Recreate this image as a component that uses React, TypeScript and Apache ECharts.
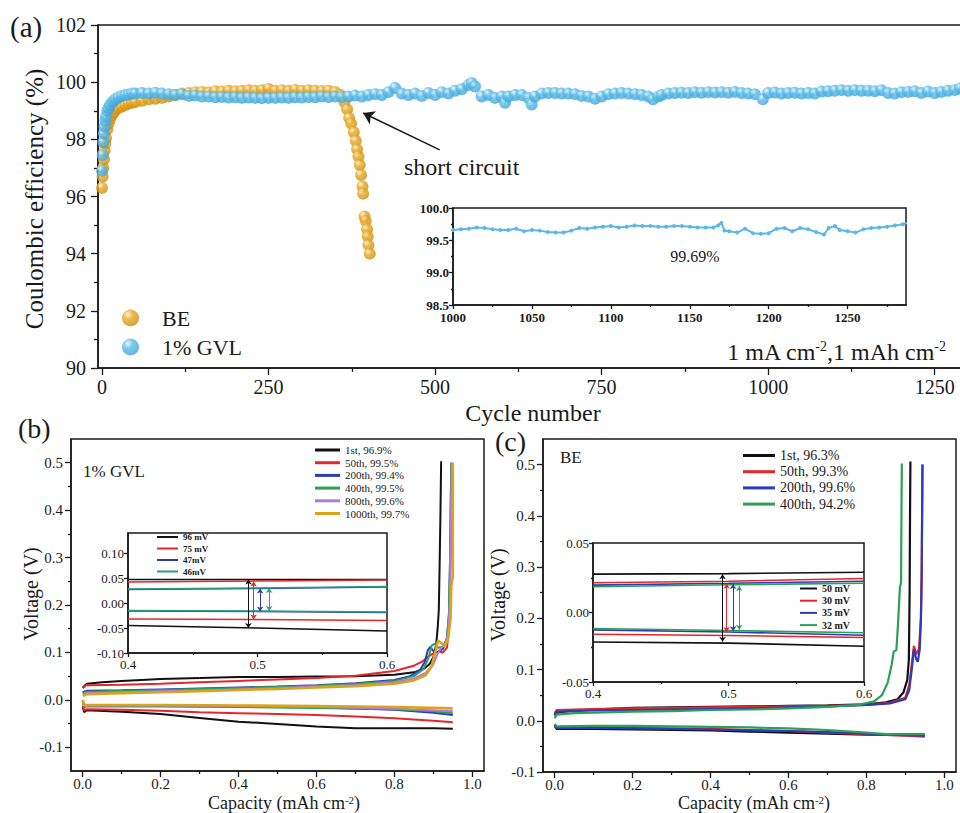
import React, { useEffect, useRef } from 'react';
import * as echarts from 'echarts';

const SERIF = '"Liberation Serif", "Times New Roman", serif';
const INK = '#1a1a1a';

// ---------- (a) Coulombic efficiency vs cycle number ----------
const beCE: [number, number][] = [
  [0, 96.3], [1, 96.7], [2, 97.0], [3, 97.3], [4, 97.6], [5, 97.85], [6, 98.05], [8, 98.35], [10, 98.55],
  [12, 98.7], [15, 98.85], [18, 98.95], [21, 99.05], [25, 99.1], [30, 99.15], [35, 99.2], [40, 99.25],
  [45, 99.28], [50, 99.3], [60, 99.35], [70, 99.4], [80, 99.42], [90, 99.45], [100, 99.5], [110, 99.55],
  [120, 99.6], [130, 99.62], [140, 99.65], [150, 99.66], [160, 99.64], [170, 99.68], [180, 99.67],
  [190, 99.7], [200, 99.68], [210, 99.7], [220, 99.72], [230, 99.7], [240, 99.72], [250, 99.76],
  [260, 99.7], [270, 99.72], [280, 99.7], [290, 99.73], [300, 99.7], [310, 99.72], [320, 99.7],
  [330, 99.69], [340, 99.7], [350, 99.66], [358, 99.55], [364, 99.3], [368, 99.05], [371, 98.75],
  [374, 98.55], [378, 98.25], [381, 97.95], [383, 97.65], [385, 97.4], [387, 97.1], [389, 96.75],
  [391, 96.35], [392, 96.1], [394, 95.3], [396, 95.15], [398, 94.85], [399, 94.6], [400, 94.3], [402, 94.0],
];

const gvlCE: [number, number][] = [
  [0, 96.9], [1, 97.45], [2, 97.9], [3, 98.2], [4, 98.45], [5, 98.65], [6, 98.8], [8, 99.0], [10, 99.1],
  [12, 99.2], [15, 99.3], [18, 99.36], [21, 99.42], [25, 99.47], [30, 99.52], [35, 99.55], [40, 99.57],
  [45, 99.6], [50, 99.6], [60, 99.62], [70, 99.6], [80, 99.63], [90, 99.6], [100, 99.58], [110, 99.55],
  [120, 99.58], [130, 99.52], [140, 99.53], [150, 99.5], [160, 99.5], [170, 99.47], [180, 99.48],
  [190, 99.46], [200, 99.47], [210, 99.45], [220, 99.46], [230, 99.45], [240, 99.44], [250, 99.45],
  [260, 99.45], [270, 99.46], [280, 99.45], [290, 99.47], [300, 99.46], [310, 99.48], [320, 99.47],
  [330, 99.5], [340, 99.48], [350, 99.5], [360, 99.48], [370, 99.5], [380, 99.53], [390, 99.5],
  [400, 99.55], [410, 99.58], [420, 99.55], [430, 99.65], [440, 99.8], [450, 99.6], [460, 99.55],
  [470, 99.6], [480, 99.52], [490, 99.62], [500, 99.55], [510, 99.65], [520, 99.6], [530, 99.7],
  [540, 99.75], [550, 99.9], [555, 99.97], [560, 99.85], [570, 99.5], [580, 99.55], [590, 99.45],
  [600, 99.5], [605, 99.28], [610, 99.5], [620, 99.55], [630, 99.55], [640, 99.45], [645, 99.22],
  [650, 99.5], [660, 99.6], [670, 99.62], [680, 99.62], [690, 99.6], [700, 99.6], [710, 99.58],
  [720, 99.52], [730, 99.5], [740, 99.42], [750, 99.5], [760, 99.58], [770, 99.6], [780, 99.62],
  [790, 99.6], [800, 99.58], [810, 99.55], [820, 99.5], [827, 99.4], [835, 99.5], [840, 99.55],
  [850, 99.6], [860, 99.62], [870, 99.63], [880, 99.62], [890, 99.65], [900, 99.63], [910, 99.65],
  [920, 99.64], [930, 99.65], [940, 99.63], [950, 99.66], [960, 99.62], [970, 99.6], [980, 99.58],
  [992, 99.4], [1000, 99.62], [1010, 99.64], [1020, 99.6], [1030, 99.62], [1040, 99.63], [1050, 99.6],
  [1060, 99.62], [1070, 99.6], [1080, 99.67], [1090, 99.68], [1100, 99.7], [1110, 99.72], [1120, 99.7],
  [1130, 99.72], [1140, 99.7], [1150, 99.7], [1160, 99.68], [1170, 99.72], [1180, 99.62], [1190, 99.6],
  [1200, 99.65], [1210, 99.66], [1220, 99.68], [1230, 99.62], [1240, 99.67], [1250, 99.62], [1260, 99.66],
  [1270, 99.7], [1280, 99.72], [1288, 99.78],
];

const gvlInsetCE: [number, number][] = [
  [1000, 99.66], [1005, 99.67], [1010, 99.68], [1015, 99.7], [1020, 99.69], [1025, 99.67], [1030, 99.66],
  [1035, 99.66], [1040, 99.68], [1045, 99.64], [1050, 99.66], [1055, 99.65], [1060, 99.63], [1065, 99.62],
  [1070, 99.62], [1075, 99.65], [1080, 99.69], [1085, 99.68], [1090, 99.7], [1095, 99.71], [1100, 99.72],
  [1105, 99.7], [1110, 99.71], [1115, 99.73], [1120, 99.72], [1125, 99.72], [1130, 99.71], [1135, 99.71],
  [1140, 99.72], [1145, 99.72], [1150, 99.71], [1155, 99.7], [1160, 99.7], [1165, 99.7], [1168, 99.73],
  [1170, 99.77], [1172, 99.65], [1175, 99.64], [1180, 99.62], [1185, 99.68], [1190, 99.61], [1195, 99.6],
  [1200, 99.61], [1205, 99.68], [1210, 99.69], [1215, 99.64], [1220, 99.69], [1225, 99.67], [1230, 99.63],
  [1235, 99.59], [1238, 99.69], [1242, 99.72], [1245, 99.66], [1250, 99.64], [1255, 99.62], [1260, 99.67],
  [1265, 99.69], [1270, 99.7], [1275, 99.71], [1280, 99.73], [1285, 99.75], [1288, 99.77],
];

const cycleTicks = [0, 250, 500, 750, 1000, 1250];
const cycleMinorTicks = [125, 375, 625, 875, 1125];
const ceTicks = [90, 92, 94, 96, 98, 100, 102];
const ceMinorTicks = [91, 93, 95, 97, 99, 101];
const insetCycleTicks = [1000, 1050, 1100, 1150, 1200, 1250];
const insetCycleMinor = [1025, 1075, 1125, 1175, 1225, 1275];
const insetCETicks = [98.5, 99.0, 99.5, 100.0];
const insetCEMinor = [98.75, 99.25, 99.75];

// ---------- (b) 1% GVL voltage profiles ----------
const gvlNames = ['1st, 96.9%', '50th, 99.5%', '200th, 99.4%', '400th, 99.5%', '800th, 99.6%', '1000th, 99.7%'];
const gvlColors = ['#111111', '#e8262a', '#2c3cb4', '#2aa05a', '#b27ad8', '#dca21c'];
const gvlCharge: [number, number][][] = [
  [[0, 0.025], [0.01, 0.034], [0.05, 0.037], [0.1, 0.04], [0.2, 0.044], [0.3, 0.046], [0.4, 0.048], [0.5, 0.048], [0.6, 0.049], [0.7, 0.05], [0.8, 0.053], [0.85, 0.058], [0.875, 0.065], [0.89, 0.075], [0.9, 0.09], [0.907, 0.115], [0.911, 0.15], [0.914, 0.19], [0.916, 0.28], [0.918, 0.38], [0.92, 0.503]],
  [[0, 0.027], [0.01, 0.031], [0.1, 0.032], [0.2, 0.034], [0.3, 0.037], [0.4, 0.04], [0.5, 0.043], [0.6, 0.046], [0.7, 0.051], [0.8, 0.061], [0.85, 0.072], [0.87, 0.08], [0.885, 0.09], [0.9, 0.098], [0.915, 0.102], [0.925, 0.1], [0.935, 0.11], [0.94, 0.15], [0.943, 0.25], [0.946, 0.38], [0.948, 0.5]],
  [[0, 0.016], [0.01, 0.019], [0.1, 0.02], [0.2, 0.022], [0.3, 0.024], [0.4, 0.026], [0.5, 0.028], [0.6, 0.031], [0.7, 0.035], [0.8, 0.042], [0.84, 0.05], [0.865, 0.062], [0.878, 0.08], [0.886, 0.105], [0.892, 0.112], [0.9, 0.103], [0.91, 0.1], [0.925, 0.108], [0.935, 0.13], [0.94, 0.18], [0.943, 0.3], [0.946, 0.5]],
  [[0, 0.014], [0.01, 0.017], [0.1, 0.019], [0.2, 0.021], [0.3, 0.023], [0.4, 0.025], [0.5, 0.027], [0.6, 0.03], [0.7, 0.034], [0.8, 0.04], [0.85, 0.05], [0.875, 0.065], [0.888, 0.09], [0.896, 0.115], [0.903, 0.118], [0.912, 0.11], [0.925, 0.112], [0.935, 0.13], [0.94, 0.18], [0.943, 0.3], [0.946, 0.5]],
  [[0, 0.011], [0.01, 0.014], [0.1, 0.016], [0.2, 0.018], [0.3, 0.02], [0.4, 0.022], [0.5, 0.025], [0.6, 0.028], [0.7, 0.031], [0.8, 0.037], [0.85, 0.045], [0.88, 0.057], [0.9, 0.075], [0.91, 0.095], [0.92, 0.11], [0.93, 0.118], [0.938, 0.14], [0.942, 0.2], [0.945, 0.35], [0.947, 0.5]],
  [[0, 0.008], [0.01, 0.012], [0.1, 0.014], [0.2, 0.016], [0.3, 0.018], [0.4, 0.021], [0.5, 0.023], [0.6, 0.026], [0.7, 0.029], [0.8, 0.034], [0.85, 0.041], [0.88, 0.052], [0.895, 0.07], [0.905, 0.1], [0.912, 0.125], [0.92, 0.12], [0.93, 0.113], [0.938, 0.13], [0.944, 0.17], [0.946, 0.24], [0.95, 0.26], [0.95, 0.5]],
];
const gvlDischarge: [number, number][][] = [
  [[0, -0.015], [0.004, -0.026], [0.01, -0.022], [0.1, -0.025], [0.2, -0.03], [0.3, -0.038], [0.4, -0.046], [0.5, -0.051], [0.6, -0.056], [0.7, -0.06], [0.8, -0.06], [0.9, -0.06], [0.95, -0.061]],
  [[0, -0.012], [0.004, -0.022], [0.01, -0.02], [0.1, -0.021], [0.2, -0.023], [0.3, -0.026], [0.4, -0.028], [0.5, -0.03], [0.6, -0.032], [0.7, -0.035], [0.8, -0.039], [0.9, -0.044], [0.95, -0.047]],
  [[0, -0.003], [0.004, -0.014], [0.01, -0.013], [0.2, -0.013], [0.4, -0.014], [0.6, -0.016], [0.7, -0.018], [0.8, -0.021], [0.9, -0.027], [0.95, -0.032]],
  [[0, -0.004], [0.004, -0.015], [0.01, -0.014], [0.2, -0.014], [0.4, -0.015], [0.6, -0.017], [0.8, -0.02], [0.9, -0.024], [0.95, -0.028]],
  [[0, -0.002], [0.004, -0.013], [0.01, -0.012], [0.2, -0.012], [0.4, -0.013], [0.6, -0.015], [0.8, -0.018], [0.95, -0.024]],
  [[0, 0.0], [0.005, -0.012], [0.01, -0.011], [0.2, -0.011], [0.4, -0.012], [0.6, -0.013], [0.8, -0.015], [0.95, -0.018]],
];
// (b) inset: zoom 0.4–0.6 mAh cm-2
const gvlZoomNames = ['96 mV', '75 mV', '47mV', '46mV'];
const gvlZoomColors = ['#111111', '#e8262a', '#2c3cb4', '#2a9d7a'];
const gvlZoomUpper: [number, number][][] = [
  [[0.4, 0.047], [0.5, 0.047], [0.6, 0.047]],
  [[0.4, 0.042], [0.5, 0.044], [0.6, 0.046]],
  [[0.4, 0.027], [0.5, 0.029], [0.6, 0.032]],
  [[0.4, 0.028], [0.5, 0.03], [0.6, 0.033]],
];
const gvlZoomLower: [number, number][][] = [
  [[0.4, -0.045], [0.5, -0.05], [0.6, -0.056]],
  [[0.4, -0.032], [0.5, -0.033], [0.6, -0.035]],
  [[0.4, -0.016], [0.5, -0.017], [0.6, -0.019]],
  [[0.4, -0.015], [0.5, -0.016], [0.6, -0.018]],
];
const gvlZoomArrows: [number, number, number][] = [
  [0.493, 0.047, -0.05], [0.497, 0.043, -0.033], [0.502, 0.029, -0.017], [0.509, 0.03, -0.016],
];

// ---------- (c) BE voltage profiles ----------
const beNames = ['1st, 96.3%', '50th, 99.3%', '200th, 99.6%', '400th, 94.2%'];
const beColors = ['#111111', '#e8262a', '#2c3cb4', '#2aa05a'];
const beCharge: [number, number][][] = [
  [[0, 0.01], [0.005, 0.016], [0.05, 0.02], [0.1, 0.022], [0.2, 0.025], [0.3, 0.026], [0.4, 0.027], [0.5, 0.028], [0.6, 0.029], [0.7, 0.03], [0.8, 0.032], [0.85, 0.036], [0.88, 0.042], [0.895, 0.055], [0.905, 0.08], [0.909, 0.12], [0.911, 0.25], [0.912, 0.4], [0.913, 0.506]],
  [[0, 0.015], [0.005, 0.021], [0.05, 0.022], [0.1, 0.023], [0.2, 0.024], [0.3, 0.025], [0.4, 0.026], [0.5, 0.027], [0.6, 0.028], [0.7, 0.029], [0.8, 0.031], [0.86, 0.035], [0.9, 0.045], [0.91, 0.07], [0.918, 0.12], [0.922, 0.146], [0.928, 0.13], [0.935, 0.14], [0.94, 0.2], [0.942, 0.28], [0.943, 0.4], [0.944, 0.5]],
  [[0, 0.012], [0.005, 0.018], [0.05, 0.019], [0.1, 0.02], [0.2, 0.021], [0.3, 0.022], [0.4, 0.023], [0.5, 0.024], [0.6, 0.026], [0.7, 0.028], [0.8, 0.031], [0.86, 0.034], [0.9, 0.042], [0.91, 0.06], [0.918, 0.11], [0.922, 0.14], [0.928, 0.12], [0.932, 0.115], [0.937, 0.14], [0.94, 0.2], [0.942, 0.3], [0.943, 0.4], [0.944, 0.5]],
  [[0, 0.005], [0.005, 0.012], [0.05, 0.015], [0.1, 0.016], [0.2, 0.018], [0.3, 0.019], [0.4, 0.021], [0.5, 0.022], [0.6, 0.024], [0.7, 0.027], [0.78, 0.031], [0.82, 0.038], [0.84, 0.05], [0.855, 0.075], [0.865, 0.11], [0.87, 0.135], [0.877, 0.138], [0.882, 0.2], [0.886, 0.26], [0.889, 0.27], [0.89, 0.4], [0.891, 0.502]],
];
const beDischarge: [number, number][][] = [
  [[0, -0.01], [0.005, -0.016], [0.1, -0.016], [0.2, -0.017], [0.3, -0.018], [0.4, -0.019], [0.5, -0.021], [0.6, -0.023], [0.7, -0.025], [0.8, -0.027], [0.9, -0.028], [0.95, -0.028]],
  [[0, -0.008], [0.005, -0.013], [0.1, -0.013], [0.2, -0.014], [0.3, -0.015], [0.4, -0.016], [0.5, -0.018], [0.6, -0.02], [0.7, -0.023], [0.8, -0.026], [0.9, -0.029], [0.95, -0.031]],
  [[0, -0.009], [0.005, -0.014], [0.1, -0.014], [0.2, -0.015], [0.4, -0.017], [0.6, -0.02], [0.7, -0.022], [0.8, -0.025], [0.9, -0.028], [0.95, -0.029]],
  [[0, -0.006], [0.005, -0.011], [0.1, -0.01], [0.2, -0.01], [0.3, -0.011], [0.4, -0.012], [0.5, -0.013], [0.6, -0.015], [0.7, -0.018], [0.8, -0.023], [0.85, -0.026], [0.9, -0.026], [0.95, -0.026]],
];
const beZoomNames = ['50 mV', '30 mV', '35 mV', '32 mV'];
const beZoomUpper: [number, number][][] = [
  [[0.4, 0.0276], [0.5, 0.028], [0.6, 0.029]],
  [[0.4, 0.0214], [0.5, 0.0225], [0.6, 0.0245]],
  [[0.4, 0.0197], [0.5, 0.021], [0.6, 0.0225]],
  [[0.4, 0.0185], [0.5, 0.02], [0.6, 0.021]],
];
const beZoomLower: [number, number][][] = [
  [[0.4, -0.0212], [0.5, -0.022], [0.6, -0.0243]],
  [[0.4, -0.0157], [0.5, -0.0165], [0.6, -0.018]],
  [[0.4, -0.0125], [0.5, -0.014], [0.6, -0.0164]],
  [[0.4, -0.0115], [0.5, -0.013], [0.6, -0.0146]],
];
const beZoomArrows: [number, number, number][] = [
  [0.4956, 0.0276, -0.021], [0.4986, 0.0207, -0.014], [0.5034, 0.0205, -0.0135], [0.5079, 0.019, -0.0124],
];

const capTicks = [0, 0.2, 0.4, 0.6, 0.8, 1.0];
const capMinor = [0.1, 0.3, 0.5, 0.7, 0.9];
const voltTicks = [-0.1, 0, 0.1, 0.2, 0.3, 0.4, 0.5];
const voltMinor = [-0.05, 0.05, 0.15, 0.25, 0.35, 0.45];
const zoomCapTicks = [0.4, 0.5, 0.6];
const zoomCapMinor = [0.45, 0.55];
const zoomVoltTicksB = [-0.1, -0.05, 0, 0.05, 0.1];
const zoomVoltTicksC = [-0.05, 0, 0.05];
const zoomVoltMinorC = [-0.025, 0.025];

// ---------- helpers ----------
type AxisSpec = {
  min: number; max: number; major: number[]; minor: number[];
  fmt: (v: number) => string; font: number; bold?: boolean; margin: number; tick: number; minorTick: number;
  lineHeight?: number;
};

function axisPair(kind: 'x' | 'y', grid: number, s: AxisSpec) {
  const position = kind === 'x' ? 'bottom' : 'left';
  const tickLine = { color: INK, width: 1.3 };
  return [
    {
      type: 'value', gridIndex: grid, min: s.min, max: s.max, position,
      splitLine: { show: false },
      axisLine: { show: true, onZero: false, lineStyle: { color: INK, width: 1.5 } },
      axisTick: { show: true, customValues: s.major, length: s.tick, lineStyle: tickLine },
      axisLabel: {
        show: true, customValues: s.major, formatter: s.fmt, margin: s.margin,
        fontFamily: SERIF, fontSize: s.font, fontWeight: s.bold ? 'bold' : 'normal', color: INK,
        ...(s.lineHeight ? { lineHeight: s.lineHeight } : {}),
      },
    },
    {
      type: 'value', gridIndex: grid, min: s.min, max: s.max, position,
      splitLine: { show: false },
      axisLine: { show: false, onZero: false },
      axisTick: { show: s.minor.length > 0, customValues: s.minor, length: s.minorTick, lineStyle: tickLine },
      axisLabel: { show: false },
    },
  ];
}

const f0 = (v: number) => String(Math.round(v));
const f1 = (v: number) => v.toFixed(1);
const f2 = (v: number) => v.toFixed(2);

function ball(main: string, light: string, dark: string) {
  return new echarts.graphic.RadialGradient(0.35, 0.3, 0.8, [
    { offset: 0, color: light },
    { offset: 0.35, color: main },
    { offset: 1, color: dark },
  ]);
}

function text(t: string, x: number, y: number, size: number, extra: any = {}, elExtra: any = {}) {
  return {
    type: 'text', x, y, silent: true, ...elExtra,
    style: { text: t, fontFamily: SERIF, fontSize: size, fill: INK, align: 'left', verticalAlign: 'middle', ...extra },
  };
}

function supText(parts: [string, boolean][], x: number, y: number, size: number, align: string, lh: number) {
  const str = parts.map(([s, sup]) => `{${sup ? 's' : 'n'}|${s}}`).join('');
  const ss = Math.round(size * 0.6);
  return {
    type: 'text', x, y, silent: true,
    style: {
      text: str, align, verticalAlign: 'middle',
      rich: {
        n: { fontFamily: SERIF, fontSize: size, fill: INK, lineHeight: lh },
        s: { fontFamily: SERIF, fontSize: ss, fill: INK, lineHeight: ss, verticalAlign: 'top' },
      },
    },
  };
}

function lineSeries(name: string, color: string, data: [number, number][], axis: number, width: number, extra: any = {}) {
  return {
    type: 'line', name, data, xAxisIndex: axis, yAxisIndex: axis,
    showSymbol: false, symbol: 'none', color,
    lineStyle: { color, width }, itemStyle: { color },
    emphasis: { disabled: true }, silent: true, animation: false, ...extra,
  };
}

function arrowMark(color: string, x: number, y1: number, y2: number) {
  return {
    silent: true, symbol: ['arrow', 'arrow'], symbolSize: 5, animation: false,
    label: { show: false }, emphasis: { disabled: true },
    lineStyle: { color, width: 1, type: 'solid' },
    data: [[{ coord: [x, y1] }, { coord: [x, y2] }]],
  };
}

function buildOption(): any {
  const grids = [
    { left: 98, top: 25, width: 864, height: 343 },
    { left: 453, top: 208, width: 453, height: 97 },
    { left: 71, top: 439, width: 413, height: 332 },
    { left: 128, top: 533, width: 259, height: 120 },
    { left: 543, top: 439, width: 413, height: 333 },
    { left: 593, top: 543, width: 271, height: 139 },
  ].map((g, i) => ({
    ...g, show: true, borderColor: INK, borderWidth: 1.5, containLabel: false, outerBoundsMode: 'none',
    backgroundColor: i % 2 === 1 ? '#ffffff' : 'transparent',
  }));

  const xSpecs: AxisSpec[] = [
    { min: -6, max: 1291, major: cycleTicks, minor: cycleMinorTicks, fmt: f0, font: 20, margin: 9, tick: 7, minorTick: 4 },
    { min: 1000, max: 1287, major: insetCycleTicks, minor: insetCycleMinor, fmt: f0, font: 13, bold: true, margin: 6, tick: 4, minorTick: 2, lineHeight: 12 },
    { min: -0.03, max: 1.03, major: capTicks, minor: capMinor, fmt: f1, font: 15, margin: 6, tick: 6, minorTick: 3, lineHeight: 13 },
    { min: 0.4, max: 0.6, major: zoomCapTicks, minor: zoomCapMinor, fmt: f1, font: 13, margin: 5, tick: 4, minorTick: 2 },
    { min: -0.03, max: 1.03, major: capTicks, minor: capMinor, fmt: f1, font: 15, margin: 6, tick: 6, minorTick: 3, lineHeight: 13 },
    { min: 0.4, max: 0.6, major: zoomCapTicks, minor: zoomCapMinor, fmt: f1, font: 13, margin: 5, tick: 4, minorTick: 2 },
  ];
  const ySpecs: AxisSpec[] = [
    { min: 90, max: 102, major: ceTicks, minor: ceMinorTicks, fmt: f0, font: 20, margin: 12, tick: 7, minorTick: 4 },
    { min: 98.5, max: 100.0, major: insetCETicks, minor: insetCEMinor, fmt: f1, font: 13, bold: true, margin: 4, tick: 4, minorTick: 2, lineHeight: 8 },
    { min: -0.15, max: 0.55, major: voltTicks, minor: voltMinor, fmt: f1, font: 15, margin: 8, tick: 6, minorTick: 3 },
    { min: -0.1, max: 0.14, major: zoomVoltTicksB, minor: [], fmt: f2, font: 13, margin: 4, tick: 4, minorTick: 2 },
    { min: -0.1, max: 0.55, major: voltTicks, minor: voltMinor, fmt: f1, font: 15, margin: 8, tick: 6, minorTick: 3 },
    { min: -0.05, max: 0.05, major: zoomVoltTicksC, minor: zoomVoltMinorC, fmt: f2, font: 13, margin: 4, tick: 4, minorTick: 2 },
  ];
  const xAxis: any[] = [];
  const yAxis: any[] = [];
  xSpecs.forEach((s, g) => xAxis.push(...axisPair('x', g, s)));
  ySpecs.forEach((s, g) => yAxis.push(...axisPair('y', g, s)));
  const ax = (g: number) => g * 2;

  const series: any[] = [];
  // (a)
  series.push({
    type: 'scatter', name: 'BE', data: beCE, xAxisIndex: ax(0), yAxisIndex: ax(0),
    symbol: 'circle', symbolSize: 12, itemStyle: { color: ball('#eaa823', '#fff4d6', '#c7870f') },
    emphasis: { disabled: true }, silent: true, z: 2,
  });
  series.push({
    type: 'scatter', name: '1% GVL', data: gvlCE, xAxisIndex: ax(0), yAxisIndex: ax(0),
    symbol: 'circle', symbolSize: 12, itemStyle: { color: ball('#5bbde9', '#e6f6ff', '#3d9fd4') },
    emphasis: { disabled: true }, silent: true, z: 3,
    markLine: {
      silent: true, symbol: ['none', 'arrow'], symbolSize: 11, animation: false,
      label: { show: false }, emphasis: { disabled: true },
      lineStyle: { color: INK, width: 1.5, type: 'solid' },
      data: [[{ coord: [507, 97.63] }, { coord: [392, 98.92] }]],
    },
  });
  series.push({
    type: 'line', name: 'inset GVL', data: gvlInsetCE, xAxisIndex: ax(1), yAxisIndex: ax(1),
    symbol: 'circle', symbolSize: 4, showSymbol: true, color: '#5bb8e8',
    lineStyle: { color: '#5bb8e8', width: 2 }, itemStyle: { color: '#5bb8e8' },
    emphasis: { disabled: true }, silent: true,
  });

  // (b)
  gvlNames.forEach((n, i) => {
    const w = i === 5 ? 2.6 : 2;
    series.push(lineSeries(n, gvlColors[i], gvlCharge[i], ax(2), w));
    series.push(lineSeries(n, gvlColors[i], gvlDischarge[i], ax(2), w));
  });
  gvlZoomNames.forEach((n, i) => {
    const a = gvlZoomArrows[i];
    series.push(lineSeries(n, gvlZoomColors[i], gvlZoomUpper[i], ax(3), 1.5, { markLine: arrowMark(gvlZoomColors[i], a[0], a[1], a[2]) }));
    series.push(lineSeries(n, gvlZoomColors[i], gvlZoomLower[i], ax(3), 1.5));
  });

  // (c)
  beNames.forEach((n, i) => {
    series.push(lineSeries(n, beColors[i], beCharge[i], ax(4), 2.2));
    series.push(lineSeries(n, beColors[i], beDischarge[i], ax(4), 2.2));
  });
  beZoomNames.forEach((n, i) => {
    const a = beZoomArrows[i];
    series.push(lineSeries(n, beColors[i], beZoomUpper[i], ax(5), 1.6, { markLine: arrowMark(beColors[i], a[0], a[1], a[2]) }));
    series.push(lineSeries(n, beColors[i], beZoomLower[i], ax(5), 1.6));
  });

  const legendBase = { orient: 'vertical', selectedMode: false, padding: 0, inactiveColor: '#ccc' };
  const legend = [
    {
      ...legendBase, data: ['BE', '1% GVL'], left: 122, top: 304, icon: 'circle', itemWidth: 17, itemHeight: 17, itemGap: 1,
      textStyle: { fontFamily: SERIF, fontSize: 22, color: INK, lineHeight: 28, padding: [0, 0, 0, 18] },
    },
    {
      ...legendBase, data: gvlNames, left: 315, top: 444, icon: 'rect', itemWidth: 25, itemHeight: 3, itemGap: 0.7,
      textStyle: { fontFamily: SERIF, fontSize: 11, color: INK, lineHeight: 12 },
    },
    {
      ...legendBase, data: gvlZoomNames, left: 157, top: 532, icon: 'rect', itemWidth: 21, itemHeight: 2, itemGap: 1.5,
      textStyle: { fontFamily: SERIF, fontSize: 9, fontWeight: 'bold', color: INK, lineHeight: 10 },
    },
    {
      ...legendBase, data: beNames, left: 743, top: 448, icon: 'rect', itemWidth: 32, itemHeight: 3, itemGap: 1.2,
      textStyle: { fontFamily: SERIF, fontSize: 14, color: INK, lineHeight: 15 },
    },
    {
      ...legendBase, data: beZoomNames, left: 800, top: 583, icon: 'rect', itemWidth: 17, itemHeight: 2, itemGap: 1.2,
      textStyle: { fontFamily: SERIF, fontSize: 10, fontWeight: 'bold', color: INK, lineHeight: 11 },
    },
  ];

  const graphic = [
    text('(a)', 10, 27, 29),
    text('(b)', 18, 428, 28),
    text('(c)', 495, 441, 28),
    text('Coulombic efficiency (%)', 34, 199, 25, { align: 'center' }, { rotation: Math.PI / 2 }),
    text('Cycle number', 533, 413, 24, { align: 'center' }),
    text('short circuit', 404, 167, 24),
    text('99.69%', 695, 256, 16, { align: 'center' }),
    supText([['1 mA cm', false], ['-2', true], [',1 mAh cm', false], ['-2', true]], 946, 352, 24, 'right', 26),
    text('1% GVL', 83, 471, 17),
    text('BE', 560, 457, 17),
    text('Voltage (V)', 31, 594, 20, { align: 'center' }, { rotation: Math.PI / 2 }),
    text('Voltage (V)', 498, 595, 20, { align: 'center' }, { rotation: Math.PI / 2 }),
    supText([['Capacity (mAh cm', false], ['-2', true], [')', false]], 284, 803, 18, 'center', 18),
    supText([['Capacity (mAh cm', false], ['-2', true], [')', false]], 754, 803, 18, 'center', 18),
  ];

  return {
    animation: false,
    backgroundColor: '#ffffff',
    grid: grids,
    xAxis,
    yAxis,
    legend,
    series,
    graphic,
  };
}

export default function App() {
  const ref = useRef<HTMLDivElement>(null);
  useEffect(() => {
    document.body.style.margin = '0';
    const chart = echarts.init(ref.current as HTMLDivElement, null, { renderer: 'svg' });
    chart.setOption(buildOption());
    return () => chart.dispose();
  }, []);
  return <div ref={ref} style={{ width: 960, height: 813 }} />;
}
